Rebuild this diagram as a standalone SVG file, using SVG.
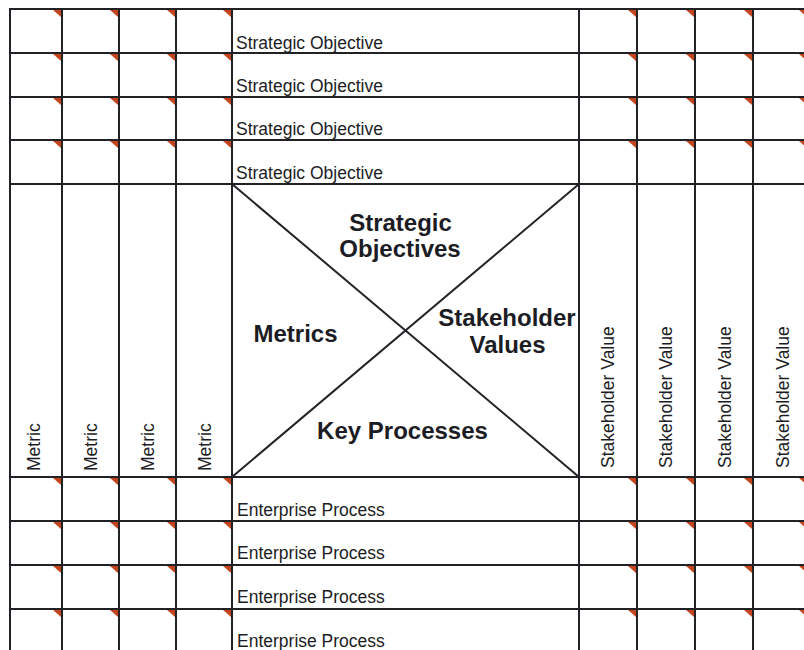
<svg xmlns="http://www.w3.org/2000/svg" xmlns:xlink="http://www.w3.org/1999/xlink" width="804" height="650" viewBox="0 0 804 650">
<style>
  .grid line { stroke: #222226; stroke-width: 2; }
  .diag line { stroke: #222226; stroke-width: 2; }
  .cell { font-family: "Liberation Sans", Arial, sans-serif; font-size: 17.5px; fill: #1c1c24; }
  .big { font-family: "Liberation Sans", Arial, sans-serif; font-size: 24px; font-weight: bold; fill: #1c1c24; text-anchor: middle; }
  .tri { fill: #c4441e; }
</style>
<defs>
  <path id="flag" d="M-9,1 L-1,1 L-1,8 Z"/>
</defs>
<rect x="0" y="0" width="804" height="650" fill="#ffffff"/>

<g id="comment-flags" class="tri">
  <!-- top rows -->
  <use xlink:href="#flag" x="62" y="9"/><use xlink:href="#flag" x="119" y="9"/><use xlink:href="#flag" x="176" y="9"/><use xlink:href="#flag" x="232" y="9"/>
  <use xlink:href="#flag" x="637" y="9"/><use xlink:href="#flag" x="695" y="9"/><use xlink:href="#flag" x="753" y="9"/><use xlink:href="#flag" x="808" y="9"/>
  <use xlink:href="#flag" x="62" y="53"/><use xlink:href="#flag" x="119" y="53"/><use xlink:href="#flag" x="176" y="53"/><use xlink:href="#flag" x="232" y="53"/>
  <use xlink:href="#flag" x="637" y="53"/><use xlink:href="#flag" x="695" y="53"/><use xlink:href="#flag" x="753" y="53"/><use xlink:href="#flag" x="808" y="53"/>
  <use xlink:href="#flag" x="62" y="97"/><use xlink:href="#flag" x="119" y="97"/><use xlink:href="#flag" x="176" y="97"/><use xlink:href="#flag" x="232" y="97"/>
  <use xlink:href="#flag" x="637" y="97"/><use xlink:href="#flag" x="695" y="97"/><use xlink:href="#flag" x="753" y="97"/><use xlink:href="#flag" x="808" y="97"/>
  <use xlink:href="#flag" x="62" y="140"/><use xlink:href="#flag" x="119" y="140"/><use xlink:href="#flag" x="176" y="140"/><use xlink:href="#flag" x="232" y="140"/>
  <use xlink:href="#flag" x="637" y="140"/><use xlink:href="#flag" x="695" y="140"/><use xlink:href="#flag" x="753" y="140"/><use xlink:href="#flag" x="808" y="140"/>
  <!-- bottom rows -->
  <use xlink:href="#flag" x="62" y="477"/><use xlink:href="#flag" x="119" y="477"/><use xlink:href="#flag" x="176" y="477"/><use xlink:href="#flag" x="232" y="477"/>
  <use xlink:href="#flag" x="637" y="477"/><use xlink:href="#flag" x="695" y="477"/><use xlink:href="#flag" x="753" y="477"/><use xlink:href="#flag" x="808" y="477"/>
  <use xlink:href="#flag" x="62" y="521"/><use xlink:href="#flag" x="119" y="521"/><use xlink:href="#flag" x="176" y="521"/><use xlink:href="#flag" x="232" y="521"/>
  <use xlink:href="#flag" x="637" y="521"/><use xlink:href="#flag" x="695" y="521"/><use xlink:href="#flag" x="753" y="521"/><use xlink:href="#flag" x="808" y="521"/>
  <use xlink:href="#flag" x="62" y="565"/><use xlink:href="#flag" x="119" y="565"/><use xlink:href="#flag" x="176" y="565"/><use xlink:href="#flag" x="232" y="565"/>
  <use xlink:href="#flag" x="637" y="565"/><use xlink:href="#flag" x="695" y="565"/><use xlink:href="#flag" x="753" y="565"/><use xlink:href="#flag" x="808" y="565"/>
  <use xlink:href="#flag" x="62" y="609"/><use xlink:href="#flag" x="119" y="609"/><use xlink:href="#flag" x="176" y="609"/><use xlink:href="#flag" x="232" y="609"/>
  <use xlink:href="#flag" x="637" y="609"/><use xlink:href="#flag" x="695" y="609"/><use xlink:href="#flag" x="753" y="609"/><use xlink:href="#flag" x="808" y="609"/>
</g>

<g id="connectors">
  <g class="grid">
    <line x1="9" y1="9" x2="804" y2="9"/>
    <line x1="9" y1="53" x2="804" y2="53"/>
    <line x1="9" y1="97" x2="804" y2="97"/>
    <line x1="9" y1="140" x2="804" y2="140"/>
    <line x1="9" y1="184" x2="804" y2="184"/>
    <line x1="9" y1="477" x2="804" y2="477"/>
    <line x1="9" y1="521" x2="804" y2="521"/>
    <line x1="9" y1="565" x2="804" y2="565"/>
    <line x1="9" y1="609" x2="804" y2="609"/>
    <line x1="10" y1="8" x2="10" y2="650"/>
    <line x1="62" y1="8" x2="62" y2="650"/>
    <line x1="119" y1="8" x2="119" y2="650"/>
    <line x1="176" y1="8" x2="176" y2="650"/>
    <line x1="232" y1="8" x2="232" y2="650"/>
    <line x1="579" y1="8" x2="579" y2="650"/>
    <line x1="637" y1="8" x2="637" y2="650"/>
    <line x1="695" y1="8" x2="695" y2="650"/>
    <line x1="753" y1="8" x2="753" y2="650"/>
  </g>
  <g class="diag">
    <line x1="232" y1="184" x2="579" y2="477"/>
    <line x1="579" y1="184" x2="232" y2="477"/>
  </g>
</g>

<g id="strategic-objectives-rows">
  <text class="cell" x="236" y="49">Strategic Objective</text>
  <text class="cell" x="236" y="92">Strategic Objective</text>
  <text class="cell" x="236" y="135">Strategic Objective</text>
  <text class="cell" x="236" y="179">Strategic Objective</text>
</g>

<g id="enterprise-process-rows">
  <text class="cell" x="237" y="516">Enterprise Process</text>
  <text class="cell" x="237" y="559">Enterprise Process</text>
  <text class="cell" x="237" y="603">Enterprise Process</text>
  <text class="cell" x="237" y="647">Enterprise Process</text>
</g>

<g id="metric-columns">
  <text class="cell" transform="translate(40,471) rotate(-90)">Metric</text>
  <text class="cell" transform="translate(97,471) rotate(-90)">Metric</text>
  <text class="cell" transform="translate(154,471) rotate(-90)">Metric</text>
  <text class="cell" transform="translate(211,471) rotate(-90)">Metric</text>
</g>

<g id="stakeholder-value-columns">
  <text class="cell" transform="translate(614,468) rotate(-90)">Stakeholder Value</text>
  <text class="cell" transform="translate(672,468) rotate(-90)">Stakeholder Value</text>
  <text class="cell" transform="translate(731,468) rotate(-90)">Stakeholder Value</text>
  <text class="cell" transform="translate(789,468) rotate(-90)">Stakeholder Value</text>
</g>

<g id="center-matrix">
  <g id="label-strategic-objectives">
    <text class="big" x="400.5" y="231">Strategic</text>
    <text class="big" x="400" y="257">Objectives</text>
  </g>
  <g id="label-metrics">
    <text class="big" x="295.5" y="342">Metrics</text>
  </g>
  <g id="label-stakeholder-values">
    <text class="big" x="507" y="326">Stakeholder</text>
    <text class="big" x="507.5" y="353">Values</text>
  </g>
  <g id="label-key-processes">
    <text class="big" x="402.5" y="439">Key Processes</text>
  </g>
</g>
</svg>
